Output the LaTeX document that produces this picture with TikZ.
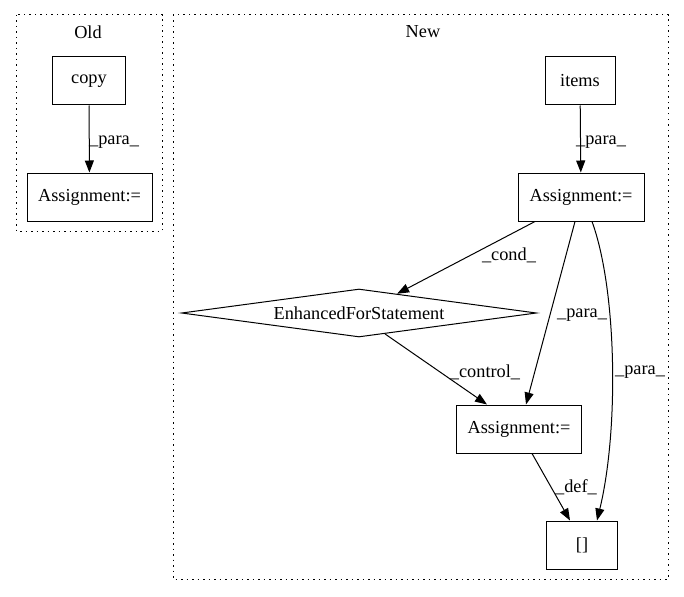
\documentclass[tikz,border=0pt]{standalone}
\usepackage{fontspec}
\setmainfont{Liberation Serif}
\usetikzlibrary{arrows.meta,shapes.geometric,calc}
\begin{document}
\begin{tikzpicture}[x=1pt,y=-1pt,
  every node/.style={font=\fontsize{18.3}{21}\selectfont},
  box/.style={draw,line width=1pt,minimum height=48pt,inner sep=0pt},
  dia/.style={draw,line width=1pt,diamond,aspect=7.4,minimum width=355pt,minimum height=48pt,inner sep=0pt},
  arr/.style={line width=1pt,-{Triangle[length=12pt,width=9pt]}},
  lbl/.style={inner sep=0pt},
  clus/.style={line width=1pt,dash pattern=on 1.5pt off 4pt}]
\useasboundingbox (0,0) rectangle (684,596);
% clusters
\draw[clus] (16,15) rectangle (162,231);
\node[lbl] (oldlbl) at (88,32) {Old};
\draw[clus] (173,15) rectangle (668,579);
\node[lbl] (newlbl) at (423,32) {New};
% old nodes
\node[box,minimum width=73pt] (copy) at (89,81) {copy};
\node[box,minimum width=125pt] (oa) at (89.5,197) {Assignment:=};
\draw[arr] (copy) -- (oa);
\node[lbl] (l0) at (114,142) {\_para\_};
% new nodes
\node[box,minimum width=70pt] (items) at (580,81) {items};
\node[box,minimum width=126pt] (a1) at (581,197) {Assignment:=};
\node[dia] (d) at (359,313) {EnhancedForStatement};
\node[box,minimum width=125pt] (a2) at (519,429) {Assignment:=};
\node[box,minimum width=71pt] (br) at (582,545) {[]};
% edges
\draw[arr] (items) -- (a1);
\node[lbl] (l1) at (601,142) {\_para\_};
\draw[arr] ([xshift=-46pt]a1.south) -- ($(d.north)!0.214!(d.east)$);
\node[lbl] (l2) at (509,255) {\_cond\_};
\draw[arr] ([xshift=-6pt]a1.south) -- ([xshift=7pt]a2.north);
\node[lbl] (l3) at (582,315) {\_para\_};
\draw[arr] ([xshift=11pt]a1.south) .. controls (617,290) and (619,430) .. ([xshift=15pt]br.north);
\node[lbl] (l4) at (640,372) {\_para\_};
\draw[arr] ($(d.south)!0.146!(d.east)$) -- ([xshift=-32pt]a2.north);
\node[lbl] (l5) at (485,372) {\_control\_};
\draw[arr] ([xshift=13pt]a2.south) -- ([xshift=-12pt]br.north);
\node[lbl] (l6) at (576,487) {\_def\_};
\end{tikzpicture}
\end{document}
